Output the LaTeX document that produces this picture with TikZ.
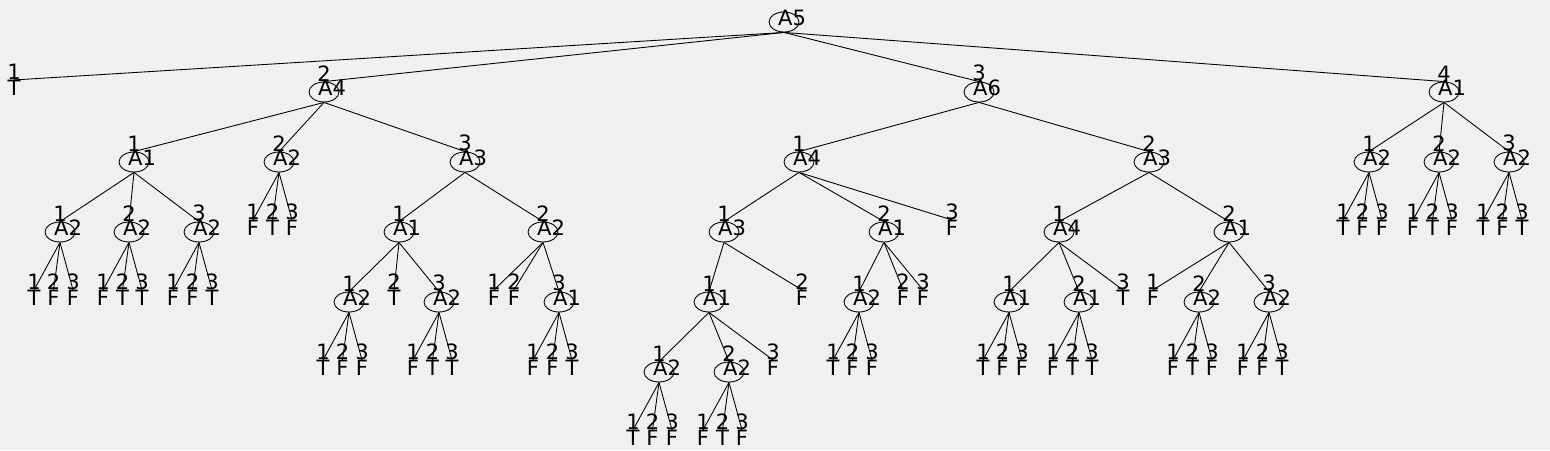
\documentclass[tikz,border=0pt]{standalone}
\usepackage{fontspec}
\setmainfont{DejaVu Sans}
\usetikzlibrary{shapes.geometric,calc}
\definecolor{panel}{HTML}{F0F0F0}
\begin{document}
\begin{tikzpicture}[x=0.02cm, y=-0.02cm, line join=round, font=\fontsize{12}{14}\selectfont,
attr/.style={draw, ellipse, line width=0.5pt, inner sep=0pt, minimum width=0.6cm, minimum height=0.4cm, label distance=0.08cm},
leaf/.style={inner sep=0pt, label distance=0.05cm},
lbl/.style={inner sep=0pt},
txt/.style={inner sep=0pt, xshift=0.16cm, yshift=0.08cm}]
\fill[panel] (0,0) rectangle (1550,450);
\useasboundingbox (0,0) rectangle (1550,450);
% root
\node[attr,label={[txt]center:A5}] (r) at (784,22) {};
% attribute nodes: name/x/y/attribute/branch
\foreach \n/\x/\y/\t/\k in {a/324/92/A4/2, b/979/92/A6/3, c/1444/92/A1/4,
a1/134/162/A1/1, a2/279/162/A2/2, a3/465/162/A3/3, b1/799/162/A4/1, b2/1149/162/A3/2,
c1/1369/162/A2/1, c2/1439/162/A2/2, c3/1509/162/A2/3,
a11/60/232/A2/1, a12/129/232/A2/2, a13/199/232/A2/3, a31/399/232/A1/1, a32/543/232/A2/2,
b11/724/232/A3/1, b12/884/232/A1/2, b21/1059/232/A4/1, b22/1229/232/A1/2,
a311/349/302/A2/1, a313/439/302/A2/3, a323/559/302/A1/3, b111/709/302/A1/1,
b121/859/302/A2/1, b211/1009/302/A1/1, b212/1079/302/A1/2, b222/1199/302/A2/2, b223/1269/302/A2/3,
b1111/659/372/A2/1, b1112/729/372/A2/2}{
\node[attr,label={[txt]center:\t},label={[lbl]above:\k}] (\n) at (\x,\y) {};
}
% single leaves
\foreach \n/\x/\y/\t/\k in {r1/14/88/T/1, b13/952/228/F/3, a312/394/298/T/2, a321/494/298/F/1,
a322/514/298/F/2, b112/802/298/F/2, b122/903/298/F/2, b123/923/298/F/3,
b213/1123/298/T/3, b221/1153/298/F/1, b113/773/368/F/3}{
\node[leaf,label={[lbl]above:\k}] (\n) at (\x,\y) {\t};
}
% branches
\foreach \p/\c in {r/r1, r/a, r/b, r/c, a/a1, a/a2, a/a3, b/b1, b/b2, c/c1, c/c2, c/c3,
a1/a11, a1/a12, a1/a13, a3/a31, a3/a32, b1/b11, b1/b12, b1/b13, b2/b21, b2/b22,
a31/a311, a31/a312, a31/a313, a32/a321, a32/a322, a32/a323,
b11/b111, b11/b112, b12/b121, b12/b122, b12/b123,
b21/b211, b21/b212, b21/b213, b22/b221, b22/b222, b22/b223,
b111/b1111, b111/b1112, b111/b113}{
\draw[line width=0.5pt] (\p.south) -- (\c.north);
}
% leaf triples under an attribute
\foreach \p/\u/\v/\w in {a2/F/T/F, c1/T/F/F, c2/F/T/F, c3/T/F/T,
a11/T/F/F, a12/F/T/T, a13/F/F/T, a311/T/F/F, a313/F/T/T, a323/F/F/T,
b121/T/F/F, b211/T/F/F, b212/F/T/T, b222/F/T/F, b223/F/F/T,
b1111/T/F/F, b1112/F/T/F}{
\foreach \t [count=\k] in {\u,\v,\w}{
\node[leaf,label={[lbl]above:\k}] (\p-\k) at ($(\p)+({-26+19.5*(\k-1)},66)$) {\t};
\draw[line width=0.5pt] (\p.south) -- (\p-\k.north);
}
}
\end{tikzpicture}
\end{document}
